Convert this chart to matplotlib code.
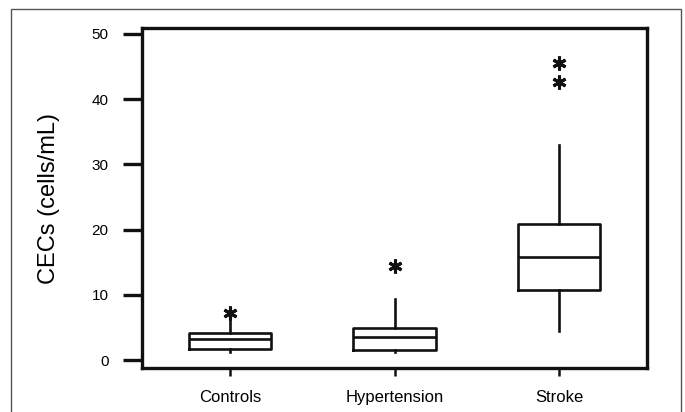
import matplotlib
matplotlib.use("Agg")
import matplotlib.pyplot as plt
from matplotlib.patches import Rectangle

categories = ["Controls", "Hypertension", "Stroke"]
q1 = [1.7, 1.6, 10.8]
medians = [3.2, 3.6, 15.8]
q3 = [4.1, 5.0, 20.8]
whisker_low = [1.2, 1.3, 4.4]
whisker_high = [6.0, 9.4, 32.9]
outliers = [[7.3], [14.4], [42.6, 45.5]]
yticks = [0, 10, 20, 30, 40, 50]

plt.rcParams['font.family'] = ['Liberation Sans', 'DejaVu Sans']

fig = plt.figure(figsize=(6.85, 4.12), dpi=100)
W, H = 685, 412
ax = fig.add_axes([142 / W, 1 - 368 / H, (647 - 142) / W, (368 - 28) / H])

stats = []
for i, c in enumerate(categories):
    stats.append(dict(label=c, q1=q1[i], med=medians[i], q3=q3[i],
                      whislo=whisker_low[i], whishi=whisker_high[i], fliers=outliers[i]))

lw = 1.9
ax.bxp(stats, positions=[1, 2, 3], widths=0.5, showcaps=False,
       boxprops=dict(color='#111111', linewidth=lw),
       medianprops=dict(color='#111111', linewidth=lw),
       whiskerprops=dict(color='#111111', linewidth=lw),
       flierprops=dict(marker=(6, 2, 0), markersize=10, markeredgecolor='#111111',
                       markeredgewidth=2.2, linestyle='none'))

ax.set_xlim(0.465, 3.535)
ax.set_ylim(-1.2, 50.9)
ax.set_yticks(yticks)
ax.set_yticklabels([str(v) for v in yticks], fontsize=11)
ax.set_xticks([1, 2, 3])
ax.set_xticklabels(categories, fontsize=12)
ax.tick_params(axis='y', length=14, width=2.4, pad=10, color='#111111')
ax.tick_params(axis='x', length=6, width=1.8, pad=10, color='#111111')
for s in ax.spines.values():
    s.set_linewidth(2.4)
    s.set_color('#111111')
ax.set_ylabel("CECs (cells/mL)", fontsize=17)
ax.yaxis.set_label_coords(-(142 - 60) / (647 - 142), 0.5)

fig.patches.append(Rectangle((11 / W, -0.02), (681 - 11) / W, 1 - 9 / H + 0.02,
                             transform=fig.transFigure, fill=False,
                             edgecolor='#555555', linewidth=1.0))

fig.savefig("out.png", dpi=100)
